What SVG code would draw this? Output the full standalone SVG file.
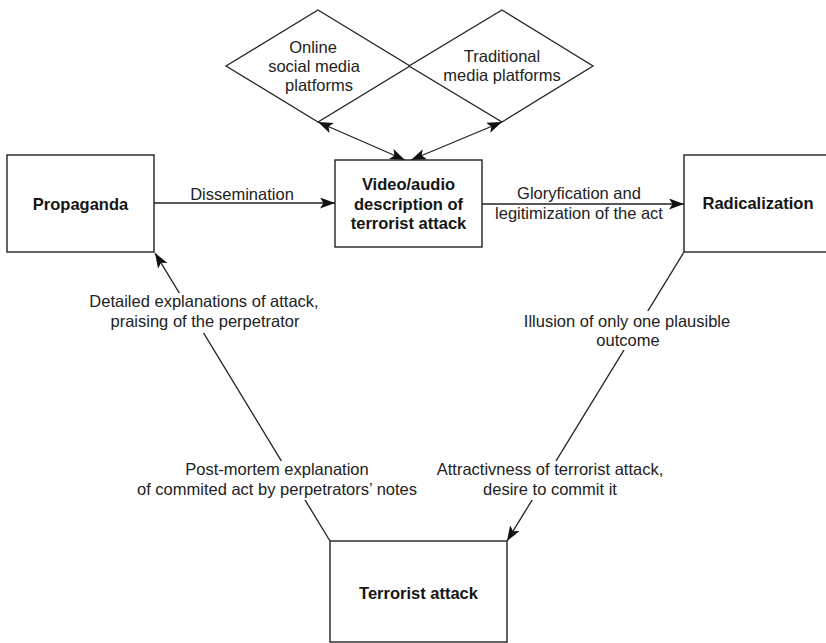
<svg xmlns="http://www.w3.org/2000/svg" width="826" height="643" viewBox="0 0 826 643">
<defs>
<marker id="arr" markerUnits="userSpaceOnUse" markerWidth="18" markerHeight="12" refX="15" refY="5.5" orient="auto-start-reverse">
<path d="M0,0 L15,5.5 L0,11 L3.5,5.5 Z" fill="#111"/>
</marker>
<style>
.box{fill:#fff;stroke:#222;stroke-width:1.4}
.dia{fill:#fff;stroke:#222;stroke-width:1.3}
.edge{fill:none;stroke:#222;stroke-width:1.3}
.nt{font-family:"Liberation Sans",Arial,sans-serif;font-size:16.5px;font-weight:bold;fill:#151515;text-anchor:middle}
.lt{font-family:"Liberation Sans",Arial,sans-serif;font-size:16.5px;fill:#222;text-anchor:middle}
.bg{fill:#fff}
</style>
</defs>
<rect width="826" height="643" fill="#fff"/>
<g id="connectors">
<line class="edge" x1="154" y1="203" x2="335" y2="203" marker-end="url(#arr)"/>
<line class="edge" x1="482" y1="204" x2="684" y2="204" marker-end="url(#arr)"/>
<line class="edge" x1="318" y1="122" x2="405" y2="160" marker-start="url(#arr)" marker-end="url(#arr)"/>
<line class="edge" x1="502" y1="122" x2="411" y2="160" marker-start="url(#arr)" marker-end="url(#arr)"/>
<line class="edge" x1="330" y1="541" x2="155" y2="253" marker-end="url(#arr)"/>
<line class="edge" x1="684" y1="252" x2="507" y2="541" marker-end="url(#arr)"/>
<rect class="bg" x="89" y="293" width="230" height="40"/>
<rect class="bg" x="523" y="311" width="208" height="39"/>
<rect class="bg" x="136" y="461" width="282" height="39"/>
<rect class="bg" x="436" y="461" width="228" height="39"/>
<text class="lt" x="242" y="200">Dissemination</text>
<text class="lt" x="579" y="199">Gloryfication and</text>
<text class="lt" x="579" y="219">legitimization of the act</text>
<text class="lt" x="204" y="307">Detailed explanations of attack,</text>
<text class="lt" x="205" y="327">praising of the perpetrator</text>
<text class="lt" x="627" y="327">Illusion of only one plausible</text>
<text class="lt" x="628" y="346">outcome</text>
<text class="lt" x="277" y="475">Post-mortem explanation</text>
<text class="lt" x="277" y="495">of commited act by perpetrators’ notes</text>
<text class="lt" x="550" y="475">Attractivness of terrorist attack,</text>
<text class="lt" x="550" y="495">desire to commit it</text>
</g>
<g id="online-social-media">
<polygon class="dia" points="318,10 410,66 318,122 226,66"/>
<text class="lt" x="313" y="53">Online</text>
<text class="lt" x="314" y="72">social media</text>
<text class="lt" x="319" y="91">platforms</text>
</g>
<g id="traditional-media">
<polygon class="dia" points="502,10 593,66 502,122 409,66" fill="none"/>
<text class="lt" x="502" y="62">Traditional</text>
<text class="lt" x="502" y="81">media platforms</text>
</g>
<g id="propaganda">
<rect class="box" x="7" y="155" width="147" height="97"/>
<text class="nt" x="80.5" y="210">Propaganda</text>
</g>
<g id="video">
<rect class="box" x="335" y="160" width="147" height="87"/>
<text class="nt" x="408.5" y="190">Video/audio</text>
<text class="nt" x="408.5" y="210">description of</text>
<text class="nt" x="408.5" y="229">terrorist attack</text>
</g>
<g id="radicalization">
<rect class="box" x="684" y="155" width="148" height="97"/>
<text class="nt" x="758" y="209">Radicalization</text>
</g>
<g id="terrorist-attack">
<rect class="box" x="330" y="541" width="177" height="101"/>
<text class="nt" x="418.5" y="599">Terrorist attack</text>
</g>
</svg>
